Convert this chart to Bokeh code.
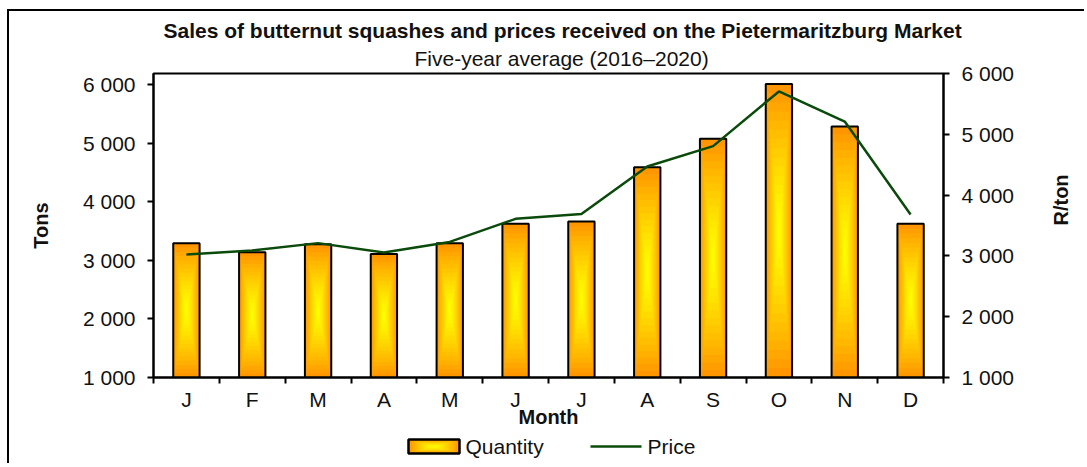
import math
from bokeh.plotting import figure
from bokeh.layouts import column
from bokeh.models import Range1d, LinearAxis, FixedTicker, Title
from bokeh.core.properties import value
from bokeh.embed import file_html
from bokeh.resources import INLINE

# ---- data ----
months = ["J", "F", "M", "A", "M", "J", "J", "A", "S", "O", "N", "D"]
quantity = [3290, 3140, 3275, 3110, 3290, 3625, 3665, 4590, 5075, 6010, 5285, 3625]
price = [3025, 3090, 3210, 3055, 3230, 3610, 3690, 4470, 4805, 5705, 5210, 3680]
y_ticks = [1000, 2000, 3000, 4000, 5000, 6000]
y_tick_labels = ["1 000", "2 000", "3 000", "4 000", "5 000", "6 000"]
series_names = ["Quantity", "Price"]

title_text = "Sales of butternut squashes and prices received on the Pietermaritzburg Market"
subtitle_text = "Five-year average (2016\u20132020)"

FONT = "Liberation Sans"
TXT = "#111111"
LINE_COLOR = "#0a4a0a"
base = 1000
orange = (255, 150, 0)
yellow = (255, 255, 0)


def grad_color(t):
    c = tuple(int(round(yellow[j] + (orange[j] - yellow[j]) * t)) for j in range(3))
    return "#%02x%02x%02x" % c


x = [i + 0.5 for i in range(len(months))]

p = figure(width=1077, height=422, output_backend="svg", toolbar_location=None,
           x_range=Range1d(0, len(months)), y_range=Range1d(base, 6190),
           min_border_left=144, min_border_right=143, min_border_top=62, min_border_bottom=56)
p.extra_y_ranges = {"price": Range1d(base, 6000)}
p.xgrid.visible = False
p.ygrid.visible = False
p.outline_line_color = "black"
p.outline_line_width = 2
p.background_fill_color = "white"
p.border_fill_color = "white"

# ---- bars with a centre-out gradient (concentric layers) ----
N = 16
bar_w = 0.4
centres = [(base + v) / 2 for v in quantity]
for k in range(N):
    s = 1 - k / N
    halfs = [(v - base) / 2 * s for v in quantity]
    p.vbar(x=x, width=bar_w * s,
           top=[c + h for c, h in zip(centres, halfs)],
           bottom=[c - h for c, h in zip(centres, halfs)],
           fill_color=grad_color(s ** 1.3), line_color=None)
p.vbar(x=x, width=bar_w, top=quantity, bottom=base, fill_alpha=0,
       line_color="black", line_width=2)

p.line(x=x, y=price, y_range_name="price", line_color=LINE_COLOR, line_width=2.5)

# ---- axes ----
overrides = {t: l for t, l in zip(y_ticks, y_tick_labels)}
ya = p.yaxis[0]
ya.ticker = FixedTicker(ticks=y_ticks)
ya.major_label_overrides = overrides
ya.axis_label = "Tons"
ya.axis_label_standoff = 28

right = LinearAxis(y_range_name="price")
right.ticker = FixedTicker(ticks=y_ticks)
right.major_label_overrides = overrides
right.axis_label = "R/ton"
right.axis_label_standoff = 44
right.axis_label_orientation = math.pi / 2
p.add_layout(right, "right")

for ax in (ya, right):
    ax.axis_line_width = 2
    ax.axis_line_color = "black"
    ax.major_tick_line_width = 2
    ax.major_tick_out = 6
    ax.major_tick_in = 0
    ax.minor_tick_line_color = None
    ax.major_label_standoff = 12

xa = p.xaxis[0]
xa.ticker = FixedTicker(ticks=x, minor_ticks=list(range(len(months) + 1)))
xa.major_label_overrides = {xi: m for xi, m in zip(x, months)}
xa.axis_line_width = 2
xa.axis_line_color = "black"
xa.major_tick_out = 0
xa.major_tick_in = 0
xa.major_tick_line_color = None
xa.minor_tick_out = 6
xa.minor_tick_in = 0
xa.minor_tick_line_width = 2
xa.minor_tick_line_color = "black"
xa.major_label_standoff = 4
xa.axis_label = "Month"
xa.axis_label_standoff = -8

for ax in (ya, right, xa):
    ax.major_label_text_font = FONT
    ax.major_label_text_font_size = "21px"
    ax.major_label_text_color = TXT
    ax.axis_label_text_font = FONT
    ax.axis_label_text_font_size = "20px"
    ax.axis_label_text_font_style = "bold"
    ax.axis_label_text_color = TXT

# ---- titles ----
p.add_layout(Title(text=subtitle_text, align="left", offset=261, standoff=7,
                   text_font=FONT, text_font_size="21px", text_font_style="normal",
                   text_color=TXT), "above")
p.add_layout(Title(text=title_text, align="left", offset=10, standoff=0,
                   text_font=FONT, text_font_size="21px", text_font_style="bold",
                   text_color=TXT), "above")

# ---- legend strip (separate small canvas under the chart; frame aligned with chart frame) ----
LW, LH = 790, 32
lg = figure(frame_width=LW, frame_height=LH, output_backend="svg", toolbar_location=None,
            x_range=Range1d(0, LW), y_range=Range1d(LH, 0),
            x_axis_type=None, y_axis_type=None, title=None,
            min_border_left=0, min_border_right=0, min_border_top=0, min_border_bottom=0)
lg.xgrid.visible = False
lg.ygrid.visible = False
lg.outline_line_color = None
lg.background_fill_color = "white"
lg.border_fill_color = "white"

sw_x0, sw_w, sw_h, cy = 255, 51, 14, 13
for k in range(N):
    s = 1 - k / N
    lg.rect(x=[sw_x0 + sw_w / 2], y=[cy], width=sw_w * s, height=sw_h * s,
            fill_color=grad_color(s ** 1.3), line_color=None)
lg.rect(x=[sw_x0 + sw_w / 2], y=[cy], width=sw_w, height=sw_h, fill_alpha=0,
        line_color="black", line_width=2.5)
lg.text(x=[sw_x0 + sw_w + 6], y=[cy], text=[series_names[0]], text_font=value(FONT),
        text_font_size="21px", text_baseline="middle", text_align="left", text_color=TXT)
ln_x0 = 437
lg.line(x=[ln_x0, ln_x0 + 51], y=[cy, cy], line_color=LINE_COLOR, line_width=2.5)
lg.text(x=[ln_x0 + 57], y=[cy], text=[series_names[1]], text_font=value(FONT),
        text_font_size="21px", text_baseline="middle", text_align="left", text_color=TXT)

layout = column(p, lg, spacing=0,
                styles={"transform": "translate(9px, 11px)",
                        "box-shadow": "-2px -2px 0px 0px black"})

open("out.html", "w").write(file_html(layout, INLINE))
